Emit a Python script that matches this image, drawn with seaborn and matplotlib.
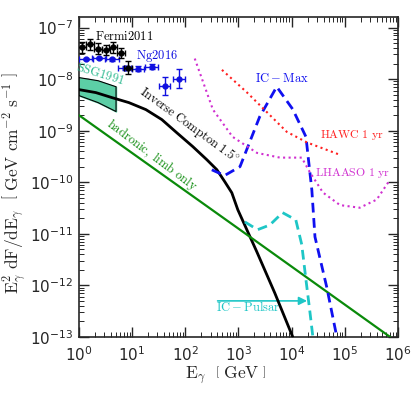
import numpy as np
import matplotlib
matplotlib.use("Agg")
import matplotlib.pyplot as plt
import seaborn as sns

# ---- data ----
# Fermi 2011 points
fermi_E = [1.14, 1.6, 2.3, 3.2, 4.4, 6.2, 8.3]
fermi_F = [4.1e-8, 4.7e-8, 3.9e-8, 3.7e-8, 4.1e-8, 3.2e-8, 1.67e-8]
fermi_xerr_dex = [0.075, 0.075, 0.075, 0.075, 0.075, 0.075, 0.075]
fermi_yerr_dex = [0.10, 0.10, 0.10, 0.10, 0.10, 0.10, 0.12]

# Ng 2016 points
ng_E = [1.35, 2.4, 4.2, 7.3, 12.9, 23.5, 41, 76]
ng_F = [2.5e-8, 2.6e-8, 2.4e-8, 1.66e-8, 1.6e-8, 1.73e-8, 7.4e-9, 1.02e-8]
ng_xerr_dex = [0.13, 0.13, 0.13, 0.12, 0.12, 0.12, 0.11, 0.11]
ng_yerr_dex = [0.02, 0.02, 0.02, 0.04, 0.04, 0.05, 0.18, 0.19]

# SSG1991 band
ssg_E = [1.0, 2.3, 5.0]
ssg_hi = [1.07e-8, 9.3e-9, 7.1e-9]
ssg_lo = [4.8e-9, 3.5e-9, 2.35e-9]

# Inverse Compton 1.5 deg
ic_E = [1.0, 2.09, 4.17, 8.71, 18.2, 36.3, 69.5, 139, 255, 393, 555, 751, 975, 2220, 4830, 10500]
ic_F = [6.25e-9, 5.47e-9, 4.38e-9, 3.5e-9, 2.56e-9, 1.64e-9, 9.1e-10, 4.9e-10, 2.73e-10,
        1.75e-10, 1.02e-10, 6.25e-11, 2.92e-11, 4.47e-12, 7.1e-13, 1e-13]

# hadronic, limb only
had_E = [1.0, 1e3, 7.1e5]
had_F = [2.0e-9, 1.26e-11, 1e-13]

# IC - Max
icmax_E = [316, 550, 1070, 2510, 5250, 10500, 18600, 24000, 27500, 45700, 70800]
icmax_F = [1.74e-10, 1.35e-10, 2.0e-10, 1.86e-9, 7.1e-9, 2.6e-9, 7.6e-10, 7.1e-11, 8.7e-12, 9.3e-13, 1e-13]

# IC - Pulsar
icp_E = [1320, 2290, 3890, 6760, 12000, 15500, 18600, 21900, 25100]
icp_F = [1.7e-11, 1.2e-11, 1.48e-11, 2.57e-11, 1.86e-11, 6.2e-12, 1.29e-12, 3.3e-13, 1e-13]

# HAWC 1 yr sensitivity
hawc_E = [490, 1450, 8100, 19500, 81000]
hawc_F = [1.51e-8, 5.5e-9, 9.5e-10, 5.9e-10, 3.4e-10]

# LHAASO 1 yr sensitivity
lhaaso_E = [151, 331, 776, 2240, 6030, 15500, 21900, 38900, 81300, 190500, 398000, 708000]
lhaaso_F = [2.5e-8, 2.57e-9, 7.6e-10, 3.7e-10, 3.0e-10, 3.0e-10, 1.58e-10, 6.3e-11, 3.6e-11, 3.2e-11, 4.6e-11, 1.12e-10]

sns.set_style("ticks")
plt.rcParams["mathtext.fontset"] = "cm"
plt.rcParams["axes.unicode_minus"] = False
plt.rcParams["font.family"] = ["DejaVu Sans"]

fig = plt.figure(figsize=(4.15, 3.95), dpi=100)
ax = fig.add_axes([0.190, 0.147, 0.769, 0.810])


def dex_err(vals, dex):
    vals = np.array(vals)
    dex = np.array(dex)
    return [vals - vals / 10**dex, vals * 10**dex - vals]


# band
ax.fill_between(ssg_E, ssg_lo, ssg_hi, color="#5ccfa6", zorder=2)
ax.plot(ssg_E + ssg_E[::-1] + [ssg_E[0]], ssg_hi + ssg_lo[::-1] + [ssg_hi[0]],
        color="black", lw=0.8, zorder=3)

sns.lineplot(x=ic_E, y=ic_F, color="black", lw=2, sort=False, ax=ax, zorder=4)
sns.lineplot(x=had_E, y=had_F, color="#0a8a0a", lw=1.6, sort=False, ax=ax, zorder=4)
sns.lineplot(x=icmax_E, y=icmax_F, color="#1010f0", lw=2, sort=False, ax=ax, zorder=4).lines[-1].set_dashes([3.5, 2])
sns.lineplot(x=icp_E, y=icp_F, color="#1ec6c6", lw=2, sort=False, ax=ax, zorder=4).lines[-1].set_dashes([3.5, 2])
sns.lineplot(x=hawc_E, y=hawc_F, color="#ff2020", lw=1.5, sort=False, ax=ax, zorder=4).lines[-1].set_linestyle(":")
sns.lineplot(x=lhaaso_E, y=lhaaso_F, color="#d030d0", lw=1.5, sort=False, ax=ax, zorder=4).lines[-1].set_linestyle(":")

# data points
ax.errorbar(ng_E, ng_F, xerr=dex_err(ng_E, ng_xerr_dex), yerr=dex_err(ng_F, ng_yerr_dex),
            fmt="o", ms=3.5, color="#1010e0", ecolor="#1010e0", elinewidth=1, capsize=2, zorder=5)
ax.errorbar(fermi_E, fermi_F, xerr=dex_err(fermi_E, fermi_xerr_dex), yerr=dex_err(fermi_F, fermi_yerr_dex),
            fmt="o", ms=3.5, color="black", elinewidth=1, capsize=2, zorder=6)

ax.set_xscale("log")
ax.set_yscale("log")
ax.set_xlim(1, 1e6)
ax.set_ylim(1e-13, 1.6e-7)
ax.tick_params(which="both", direction="in", top=True, right=True, labelsize=11)
ax.tick_params(which="major", length=7, width=1)
ax.tick_params(which="minor", length=3.5, width=0.7)
ax.tick_params(axis="x", pad=6)
ax.tick_params(axis="y", pad=4)
ax.xaxis.set_minor_locator(matplotlib.ticker.LogLocator(base=10, subs=np.arange(2, 10), numticks=20))
ax.yaxis.set_minor_locator(matplotlib.ticker.LogLocator(base=10, subs=np.arange(2, 10), numticks=20))
ax.xaxis.set_minor_formatter(matplotlib.ticker.NullFormatter())
ax.yaxis.set_minor_formatter(matplotlib.ticker.NullFormatter())
for s in ax.spines.values():
    s.set_linewidth(1.2)

ax.set_xlabel(r"$\mathrm{E}_{\gamma}\ \ \left[\ \mathrm{GeV}\ \right]$", fontsize=12.5)
ax.set_ylabel(r"$\mathrm{E}_{\gamma}^{2}\ \mathrm{dF/dE}_{\gamma}\ \ \left[\ \mathrm{GeV\ cm^{-2}\ s^{-1}}\ \right]$",
              fontsize=12.5)
ax.xaxis.set_label_coords(0.46, -0.085)
ax.yaxis.set_label_coords(-0.16, 0.48)

# labels
fs = 9
ax.text(2.0, 6.8e-8, r"$\mathrm{Fermi2011}$", fontsize=fs, color="black", va="center")
ax.text(29, 2.75e-8, r"$\mathrm{Ng2016}$", fontsize=fs, color="#1010e0", ha="center", va="center")
ax.text(2.5, 1.25e-8, r"$\mathrm{SSG1991}$", fontsize=fs, color="#2ab88e", rotation=-17,
        ha="center", va="center")
ax.text(117, 1.3e-9, r"$\mathrm{Inverse\ Compton\ 1.5^{\circ}}$", fontsize=fs, color="black",
        rotation=-36, ha="center", va="center")
ax.text(23.6, 3.4e-10, r"$\mathrm{hadronic,\ limb\ only}$", fontsize=fs, color="#0a8a0a",
        rotation=-37, ha="center", va="center")
ax.text(6600, 1.02e-8, r"$\mathrm{IC-Max}$", fontsize=fs, color="#1010f0", ha="center", va="center")
ax.text(1.35e5, 8.3e-10, r"$\mathrm{HAWC\ 1\ yr}$", fontsize=8.5, color="#ff2020", ha="center", va="center")
ax.text(1.4e5, 1.5e-10, r"$\mathrm{LHAASO\ 1\ yr}$", fontsize=8.5, color="#d030d0", ha="center", va="center")
ax.text(1500, 3.8e-13, r"$\mathrm{IC-Pulsar}$", fontsize=fs, color="#1ec6c6", ha="center", va="center")
ax.annotate("", xy=(2.2e4, 5.0e-13), xytext=(360, 5.0e-13),
            arrowprops=dict(arrowstyle="-|>", color="#1ec6c6", lw=1.2, mutation_scale=12))

fig.savefig("out.png", dpi=100)
